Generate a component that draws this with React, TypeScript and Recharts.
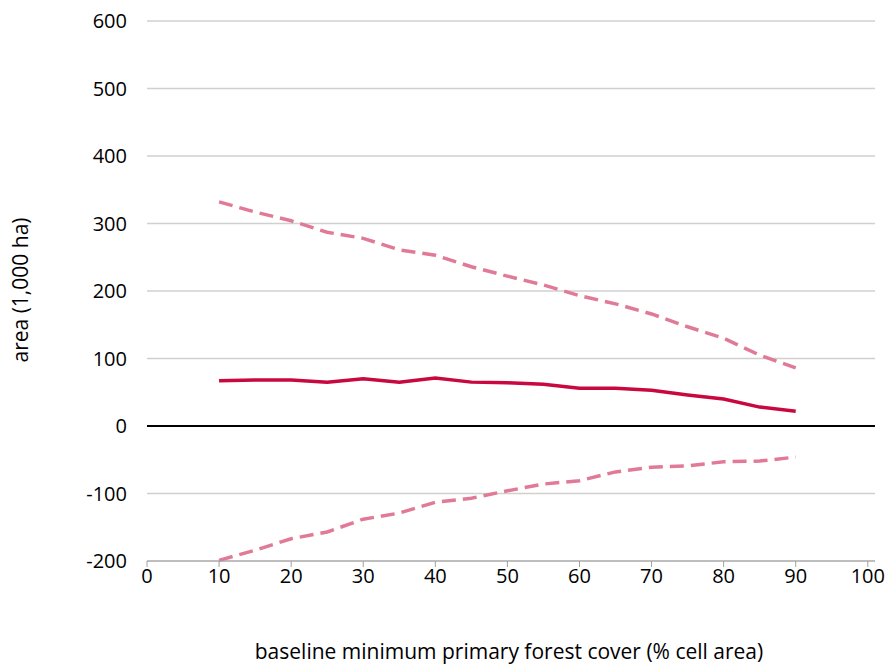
import React from 'react';
import { LineChart, Line, XAxis, YAxis, CartesianGrid, ReferenceLine } from 'recharts';

const xs = [10,15,20,25,30,35,40,45,50,55,60,65,70,75,80,85,90];
const mean = [67,68,68,65,70,65,71,65,64,62,56,56,53,46,40,28,22];
const upper = [332,317,304,287,278,261,253,236,222,209,193,181,166,147,130,105,86];
const lower = [-199,-184,-167,-157,-138,-129,-113,-107,-96,-86,-81,-68,-61,-59,-53,-52,-46];
const xTicks = [0,10,20,30,40,50,60,70,80,90,100];
const yTicks = [-200,-100,0,100,200,300,400,500,600];

const data = xs.map((x, i) => ({ x, mean: mean[i], upper: upper[i], lower: lower[i] }));
const font = '"Open Sans", Lato, sans-serif';

export default function App() {
  return (
    <div style={{ position: 'absolute', left: 0, top: 0, width: 891, height: 666, fontFamily: font, overflow: 'hidden' }}>
      <LineChart width={891} height={666} data={data} margin={{ top: 21, right: 16, bottom: 75, left: 87 }}>
        <CartesianGrid vertical={false} stroke="#d0d0d0" strokeWidth={1.3} />
        <XAxis dataKey="x" type="number" domain={[0, 101]} ticks={xTicks} axisLine={{ stroke: '#a0a0a0' }}
          tickLine={{ stroke: '#a0a0a0' }} tickSize={6} tick={{ fill: '#000', fontSize: 20, fontFamily: font }} />
        <YAxis width={60} domain={[-200, 600]} ticks={yTicks} axisLine={false} tickLine={false} tickMargin={14}
          tick={{ fill: '#000', fontSize: 20, fontFamily: font }} />
        <ReferenceLine y={0} stroke="#000" strokeWidth={2} />
        <Line dataKey="upper" stroke="#e07a96" strokeWidth={3.5} strokeDasharray="14 7" dot={false} isAnimationActive={false} />
        <Line dataKey="lower" stroke="#e07a96" strokeWidth={3.5} strokeDasharray="14 7" dot={false} isAnimationActive={false} />
        <Line dataKey="mean" stroke="#c8083e" strokeWidth={3.5} dot={false} isAnimationActive={false} />
      </LineChart>
      <div style={{ position: 'absolute', left: 20, top: 290, transform: 'translate(-50%,-50%) rotate(-90deg)', whiteSpace: 'nowrap', fontSize: 21, lineHeight: 1 }}>area (1,000 ha)</div>
      <div style={{ position: 'absolute', left: 509, top: 651, transform: 'translate(-50%,-50%)', whiteSpace: 'nowrap', fontSize: 21, lineHeight: 1 }}>baseline minimum primary forest cover (% cell area)</div>
    </div>
  );
}
